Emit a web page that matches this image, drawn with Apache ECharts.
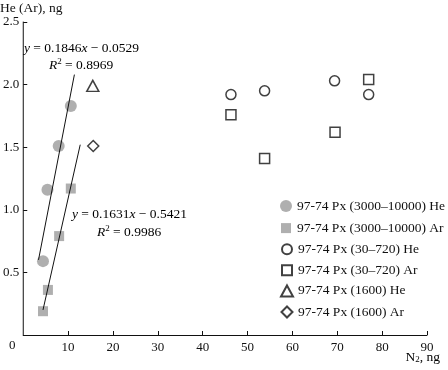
<!DOCTYPE html>
<html><head><meta charset="utf-8">
<script src="https://cdn.jsdelivr.net/npm/echarts@6/dist/echarts.min.js"></script>
<style>html,body{margin:0;padding:0;background:#fff}#c{width:448px;height:370px}</style>
</head><body><div id="c"></div>
<script>
const xTicks = [0,10,20,30,40,50,60,70,80,90];
const yTicks = [0.5,1.0,1.5,2.0,2.5];
const heHighX = [4.4, 5.4, 7.9, 10.6];
const heHighY = [0.59, 1.16, 1.51, 1.83];
const arHighX = [4.4, 5.5, 8.0, 10.6];
const arHighY = [0.19, 0.36, 0.79, 1.17];
const heLowX = [46.3, 53.8, 69.4, 77.0];
const heLowY = [1.92, 1.95, 2.03, 1.92];
const arLowX = [46.3, 53.8, 69.5, 77.0];
const arLowY = [1.76, 1.41, 1.62, 2.04];
const he1600X = [15.5];
const he1600Y = [1.99];
const ar1600X = [15.6];
const ar1600Y = [1.51];
const fitHeX = [3.4, 11.4];
const fitHeY = [0.60, 2.08];
const fitArX = [4.4, 12.7];
const fitArY = [0.20, 1.52];
const names = ['97-74 Px (3000\u201310000) He','97-74 Px (3000\u201310000) Ar','97-74 Px (30\u2013720) He','97-74 Px (30\u2013720) Ar','97-74 Px (1600) He','97-74 Px (1600) Ar'];

const zip = (a,b) => a.map((v,i)=>[v,b[i]]);
const F = 'Liberation Serif, Times New Roman, serif';
const gray = '#9b9b9b';
const ink = '#111';
const chart = echarts.init(document.getElementById('c'), null, {renderer:'canvas'});
const openStyle = {color:'#fff', borderColor:ink, borderWidth:1.5};
const richBase = {
  a:{fontFamily:F, fontSize:13.5, color:ink},
  i:{fontFamily:F, fontSize:13.5, fontStyle:'italic', color:ink},
  s:{fontFamily:F, fontSize:9, padding:[0,0,7,0], color:ink},
  d:{fontFamily:F, fontSize:9, padding:[6,0,0,0], color:ink}
};
const legendSizes = [[12,12],[10,10],[10,10],[10,10],[12,11],[11,11]];
const legends = names.map((n,i)=>({
  orient:'vertical', left:280 + (12 - legendSizes[i][0]) / 2, top:199 + i*21.1 + (12 - legendSizes[i][1]) / 2,
  itemGap:0, itemWidth:legendSizes[i][0], itemHeight:legendSizes[i][1],
  data:[n], textStyle:{fontFamily:F, fontSize:13.5, color:ink, padding:[0,0,0,(12 - legendSizes[i][0]) / 2]}, padding:0
}));
chart.setOption({
  animation:false,
  textStyle:{fontFamily:F},
  grid:{left:20.7, right:21, top:22, bottom:35, containLabel:false},
  xAxis:{type:'value', min:0, max:90, interval:10,
    axisLine:{lineStyle:{color:ink, width:1}},
    axisTick:{inside:true, length:4, lineStyle:{color:ink}},
    axisLabel:{color:ink, fontSize:13, fontFamily:F, margin:6, showMinLabel:false},
    splitLine:{show:false}},
  yAxis:{type:'value', min:0, max:2.5, interval:0.5,
    axisLine:{show:true, lineStyle:{color:ink, width:1}},
    axisTick:{show:true, inside:true, length:4, lineStyle:{color:ink}},
    axisLabel:{color:ink, fontSize:13, fontFamily:F, margin:4, showMinLabel:false,
      formatter:v=>v.toFixed(1)},
    splitLine:{show:false}},
  legend:legends,
  series:[
    {type:'line', data:zip(fitHeX,fitHeY), symbol:'none', lineStyle:{color:ink, width:1}, silent:true},
    {type:'line', data:zip(fitArX,fitArY), symbol:'none', lineStyle:{color:ink, width:1}, silent:true},
    {name:names[0], type:'scatter', data:zip(heHighX,heHighY), symbol:'circle', symbolSize:12, itemStyle:{color:gray}},
    {name:names[1], type:'scatter', data:zip(arHighX,arHighY), symbol:'rect', symbolSize:10, itemStyle:{color:gray}},
    {name:names[2], type:'scatter', data:zip(heLowX,heLowY), symbol:'circle', symbolSize:10, itemStyle:openStyle},
    {name:names[3], type:'scatter', data:zip(arLowX,arLowY), symbol:'rect', symbolSize:10, itemStyle:openStyle},
    {name:names[4], type:'scatter', data:zip(he1600X,he1600Y), symbol:'triangle', symbolSize:[12,11], itemStyle:openStyle},
    {name:names[5], type:'scatter', data:zip(ar1600X,ar1600Y), symbol:'diamond', symbolSize:[11,11], itemStyle:openStyle}
  ],
  graphic:[
    {type:'text', left:0, top:1, style:{text:'He (Ar), ng', font:'13.5px '+F, fill:ink}},
    {type:'text', left:9, top:339, style:{text:'0', font:'13px '+F, fill:ink}},
    {type:'text', right:8, top:350, style:{text:'{a|N}{d|2}{a|, ng}', rich:richBase}},
    {type:'text', left:24, top:41, style:{text:'{i|y} {a|= 0.1846}{i|x}{a| \u2212 0.0529}', rich:richBase}},
    {type:'text', left:49, top:57, style:{text:'{i|R}{s|2}{a| = 0.8969}', rich:richBase}},
    {type:'text', left:72, top:207, style:{text:'{i|y} {a|= 0.1631}{i|x}{a| \u2212 0.5421}', rich:richBase}},
    {type:'text', left:97, top:224, style:{text:'{i|R}{s|2}{a| = 0.9986}', rich:richBase}}
  ]
});
</script></body></html>
